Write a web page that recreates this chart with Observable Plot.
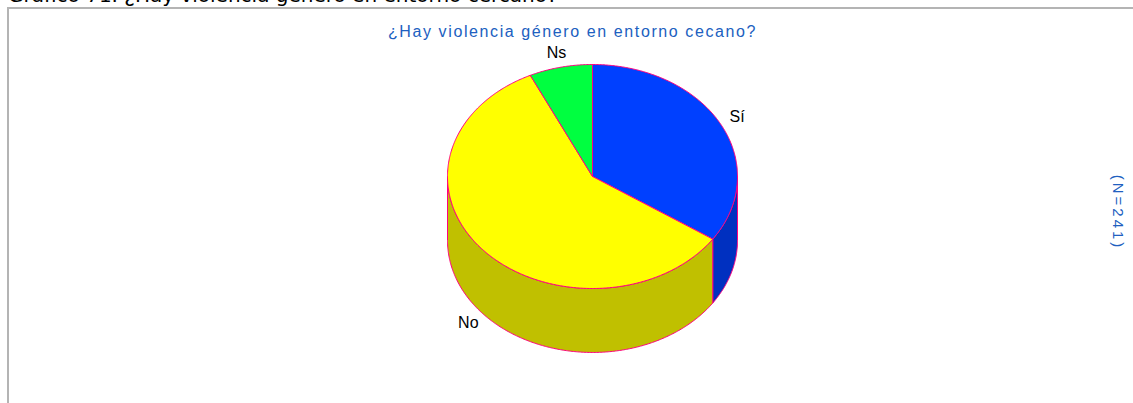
<!DOCTYPE html>
<html><head><meta charset="utf-8">
<script src="https://cdn.jsdelivr.net/npm/d3@7"></script>
<script src="https://cdn.jsdelivr.net/npm/@observablehq/plot@0.6"></script>
<style>
body{margin:0;background:#fff;width:1133px;height:403px;overflow:hidden;position:relative}
#cap{position:absolute;left:8px;top:-15px;font-family:"DejaVu Sans";font-size:20px;line-height:20px;white-space:nowrap;color:#000}
#frame{position:absolute;left:7px;top:7px;width:1140px;height:410px;border-left:2px solid #b4b4b4;border-top:2px solid #b4b4b4}
#chart{position:absolute;left:0;top:0}
</style></head><body>
<div id="cap">Gráfico 71. ¿Hay violencia género en entorno cercano?</div>
<div id="frame"></div>
<div id="chart"></div>
<script>
const categories = ["Sí", "No", "Ns"];
const counts = [83, 141, 17];
const topColors = ["#0040FF", "#FFFF00", "#00FF40"];
const sideColors = ["#0030C0", "#C0C000", "#00C030"];
const chartTitle = "¿Hay violencia género en entorno cecano?";
const nLabel = "(N=241)";

const depth = 0.571;
const slices = d3.pie().sort(null).value(d => d.value)(
  categories.map((c, i) => ({cat: c, value: counts[i], i}))
);
function arcPts(a0, a1, off = 0) {
  const n = Math.max(2, Math.ceil((a1 - a0) / 0.01));
  return d3.range(n + 1).map(k => {
    const a = a0 + (a1 - a0) * k / n;
    return [Math.sin(a), Math.cos(a) - off];
  });
}
const marks = [];
// front side walls
slices.forEach(s => {
  const a0 = Math.max(s.startAngle, Math.PI / 2), a1 = Math.min(s.endAngle, 3 * Math.PI / 2);
  if (a1 > a0) {
    const pts = [...arcPts(a0, a1), ...arcPts(a0, a1, depth).reverse()];
    pts.push(pts[0]);
    marks.push(Plot.line(pts, {x: d => d[0], y: d => d[1], fill: sideColors[s.data.i], stroke: "#FF0080", strokeWidth: 1, curve: "linear"}));
  }
});
// top faces
slices.forEach(s => {
  const pts = [[0, 0], ...arcPts(s.startAngle, s.endAngle), [0, 0]];
  marks.push(Plot.line(pts, {x: d => d[0], y: d => d[1], fill: topColors[s.data.i], stroke: "#FF0080", strokeWidth: 1, curve: "linear"}));
});
// slice labels
const labels = slices.map(s => {
  const m = (s.startAngle + s.endAngle) / 2;
  const c = Math.cos(m);
  return {text: s.data.cat, x: 1.13 * Math.sin(m), y: 1.13 * c - (c < 0 ? depth : 0)};
});
marks.push(Plot.text(labels, {x: "x", y: "y", text: "text", fill: "#000", fontSize: 16}));
marks.push(Plot.text([chartTitle], {frameAnchor: "top-left", dx: 572, dy: 31, text: d => d, textAnchor: "middle", lineAnchor: "middle", fill: "#2060C0", fontSize: 16}));
marks.push(Plot.text([nLabel], {frameAnchor: "top-left", dx: 1117, dy: 212, text: d => d, textAnchor: "middle", lineAnchor: "middle", rotate: 90, fill: "#2060C0", fontSize: 15}));

const chart = Plot.plot({
  width: 1133, height: 403, margin: 0,
  x: {domain: [-1, 1], range: [447, 737], axis: null},
  y: {domain: [-1, 1], range: [288, 64], axis: null},
  style: {background: "transparent", fontFamily: "Liberation Sans, Arial, sans-serif"},
  marks
});
d3.select(chart).selectAll("text").filter(function() { return this.textContent === chartTitle; }).attr("letter-spacing", "1.6px");
d3.select(chart).selectAll("text").filter(function() { return this.textContent === nLabel; }).attr("letter-spacing", "3px");
document.getElementById("chart").appendChild(chart);
</script>
</body></html>
